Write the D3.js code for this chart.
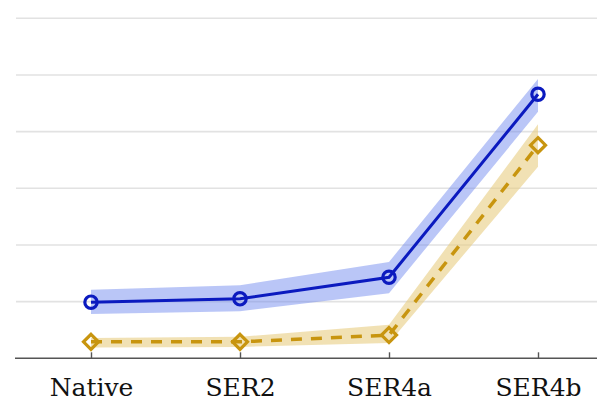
<!DOCTYPE html>
<html>
<head>
<meta charset="utf-8">
<script src="https://cdn.jsdelivr.net/npm/d3@7"></script>
<style>
  html, body { margin: 0; padding: 0; background: #fff; }
  svg { display: block; }
</style>
</head>
<body>
<svg id="chart" width="597" height="404"></svg>
<script>
// ---- data ----
const categories = ["Native", "SER2", "SER4a", "SER4b"];
const blueMean  = [0.99, 1.05, 1.43, 4.66];
const blueLower = [0.78, 0.83, 1.15, 4.35];
const blueUpper = [1.21, 1.29, 1.70, 4.93];
const goldMean  = [0.29, 0.29, 0.41, 3.76];
const goldLower = [0.19, 0.20, 0.27, 3.38];
const goldUpper = [0.36, 0.38, 0.59, 4.13];
const gridTicks = [1, 2, 3, 4, 5, 6];

// ---- layout ----
const svg = d3.select("#chart");
const x = d3.scalePoint().domain(categories).range([91, 538]);
const y = d3.scaleLinear().domain([0, 6]).range([358.3, 18.3]);
const plotLeft = 16, plotRight = 597;

// gridlines
svg.append("g").selectAll("line").data(gridTicks).join("line")
  .attr("x1", plotLeft).attr("x2", plotRight)
  .attr("y1", d => y(d)).attr("y2", d => y(d))
  .attr("stroke", "#e2e2e2").attr("stroke-width", 1.6);

const diamond = "M0,-7.5L7.5,0L0,7.5L-7.5,0Z";

function series(mean, lower, upper, lineColor, bandColor, dash, marker, lw) {
  const pts = categories.map((c, i) => ({c, m: mean[i], lo: lower[i], hi: upper[i]}));
  svg.append("path").datum(pts)
    .attr("d", d3.area().x(d => x(d.c)).y0(d => y(d.lo)).y1(d => y(d.hi)))
    .attr("fill", bandColor).attr("stroke", "none");
  svg.append("path").datum(pts)
    .attr("d", d3.line().x(d => x(d.c)).y(d => y(d.m)))
    .attr("fill", "none").attr("stroke", lineColor).attr("stroke-width", lw)
    .attr("stroke-dasharray", dash);
  const g = svg.append("g").selectAll("path").data(pts).join("path")
    .attr("transform", d => `translate(${x(d.c)},${y(d.m)})`)
    .attr("fill", "none").attr("stroke", lineColor).attr("stroke-width", 3.2);
  if (marker === "circle") g.attr("d", d3.symbol().type(d3.symbolCircle).size(120));
  else g.attr("d", diamond);
}

series(goldMean, goldLower, goldUpper, "#c8950f", "rgba(232,205,130,0.6)", "11,9", "diamond", 3.5);
series(blueMean, blueLower, blueUpper, "#0b1abf", "rgba(105,130,238,0.46)", null, "circle", 3);

// axis baseline
svg.append("line")
  .attr("x1", 15).attr("x2", plotRight)
  .attr("y1", y(0)).attr("y2", y(0))
  .attr("stroke", "#555").attr("stroke-width", 1.4);

const axis = svg.append("g")
  .attr("transform", `translate(0,${y(0)})`)
  .call(d3.axisBottom(x).tickSize(-6).tickSizeOuter(0).tickPadding(20));
axis.attr("font-family", "DejaVu Serif").attr("font-size", 25);
axis.select(".domain").remove();
axis.selectAll(".tick line").attr("stroke", "#555").attr("stroke-width", 1.4);
axis.selectAll(".tick text")
  .attr("fill", "#111")
  .attr("font-family", "DejaVu Serif")
  .attr("font-size", 25);
</script>
</body>
</html>
